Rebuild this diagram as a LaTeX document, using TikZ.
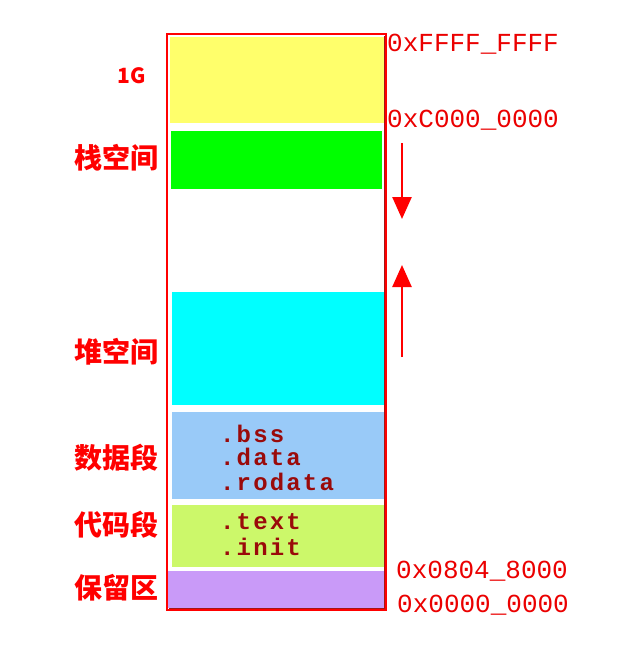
\documentclass[tikz,border=0pt]{standalone}
\usepackage{fontspec}
\newfontfamily\cjk{Noto Sans CJK SC}
\newfontfamily\hexfont{Liberation Mono}
\newfontfamily\secfont[LetterSpace=9]{Liberation Mono}
\usetikzlibrary{arrows.meta}
\definecolor{segyellow}{HTML}{FFFF6B}
\definecolor{seggreen}{HTML}{00FF00}
\definecolor{segcyan}{HTML}{00FFFF}
\definecolor{segblue}{HTML}{99CAF8}
\definecolor{seglime}{HTML}{CCF86A}
\definecolor{segpurple}{HTML}{C99AF8}
\definecolor{secred}{HTML}{9A0A0A}
\definecolor{rimred}{HTML}{A01818}

\begin{document}
\begin{tikzpicture}[x=1pt,y=-1pt,
	seglabel/.style={text=red, inner sep=0pt, font=\cjk\bfseries\fontsize{28}{28}\selectfont},
	addr/.style={text=red!92!black, inner sep=0pt, anchor=base west, font=\hexfont\fontsize{26}{26}\selectfont},
	sect/.style={text=secred, inner sep=0pt, anchor=base west, font=\secfont\bfseries\fontsize{24}{24}\selectfont},
	growarrow/.style={red, line width=2.5pt, -{Triangle[width=19pt,length=22pt]}}]
			%%%%% START %%%%%
			
			\useasboundingbox (0,0) rectangle (618,648);
			\fill[white] (0,0) rectangle (618,648);
			
			% segments
			\fill[segyellow] (170,37) rectangle (384,123);
			\fill[seggreen] (171,131) rectangle (382,189);
			\fill[segcyan] (172,292) rectangle (384,405);
			\fill[segblue] (172,412) rectangle (384,499);
			\fill[seglime] (172,505) rectangle (384,567);
			\fill[segpurple] (168,571) rectangle (384,608);
			
			\draw[red, line width=2pt] (167,34) rectangle (386,610);
			\draw[rimred, line width=1pt] (384.5,36) -- (384.5,608.5) -- (169,608.5);
			
			% left labels
			\node[seglabel, font=\cjk\bfseries\fontsize{21}{21}\selectfont] (lblGig) at (132,76) {1G};
			\node[seglabel] (lblStack) at (116,158) {栈空间};
			\node[seglabel] (lblHeap) at (116,352) {堆空间};
			\node[seglabel] (lblData) at (116,458) {数据段};
			\node[seglabel] (lblCode) at (116,525) {代码段};
			\node[seglabel] (lblResv) at (116,588) {保留区};
			
			% addresses
			\node[addr] (addrTop) at (387,51) {0xFFFF\_FFFF};
			\node[addr] (addrKern) at (387,127) {0xC000\_0000};
			\node[addr] (addrText) at (396,578) {0x0804\_8000};
			\node[addr] (addrZero) at (397,612) {0x0000\_0000};
			
			% sections
			\node[sect] (secBss) at (220,442) {.bss};
			\node[sect] (secData) at (220,465) {.data};
			\node[sect] (secRodata) at (220,490) {.rodata};
			\node[sect] (secText) at (220,529) {.text};
			\node[sect] (secInit) at (220,555) {.init};
			
			% stack grows down, heap grows up
			\coordinate (stackTail) at (402,143);
			\coordinate (stackTip) at (402,219);
			\coordinate (heapTail) at (402,357);
			\coordinate (heapTip) at (402,265);
			\draw[growarrow] (stackTail) -- (stackTip);
			\draw[growarrow] (heapTail) -- (heapTip);
			
			%%%%% END %%%%%
\end{tikzpicture}
\end{document}
